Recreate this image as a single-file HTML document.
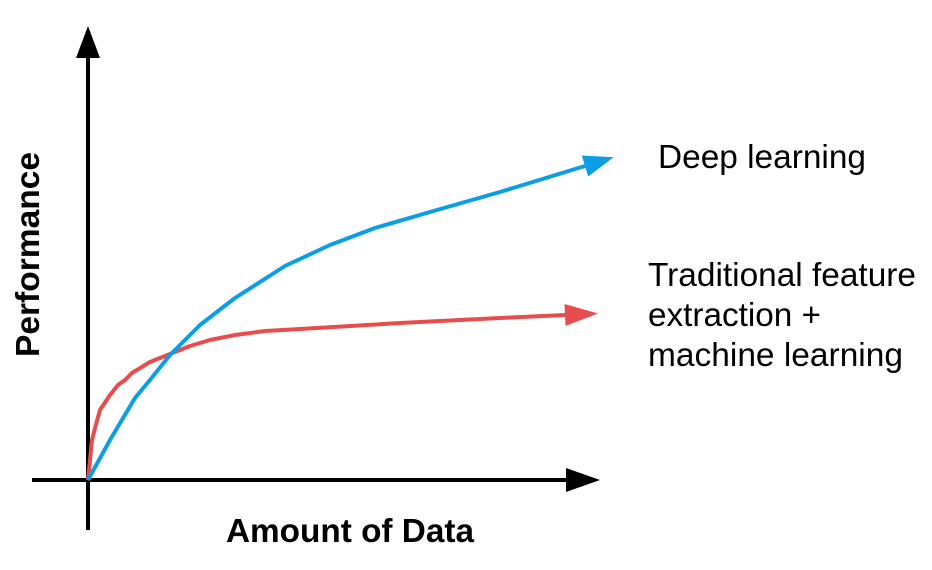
<!DOCTYPE html>
<html><head><meta charset="utf-8"><style>
html,body{margin:0;padding:0;background:#fff;width:932px;height:570px;overflow:hidden}
svg{display:block;font-family:"Liberation Sans",Arial,sans-serif}
</style></head><body>
<svg id="chart" width="932" height="570" viewBox="0 0 932 570">
<g id="axes">
<line x1="88" y1="530" x2="88" y2="50" stroke="#000" stroke-width="4"/>
<polygon points="88,26 76,58 100,58" fill="#000"/>
<line x1="32" y1="480" x2="570" y2="480" stroke="#000" stroke-width="4"/>
<polygon points="600,480 566,468 566,492" fill="#000"/>
</g>
<text x="226" y="542" font-size="33" font-weight="bold" textLength="248" lengthAdjust="spacingAndGlyphs">Amount of Data</text>
<text transform="translate(39,357) rotate(-90)" font-size="33" font-weight="bold" textLength="205" lengthAdjust="spacingAndGlyphs">Performance</text>
<g id="series"></g>
<text x="658" y="168" font-size="33" textLength="208" lengthAdjust="spacingAndGlyphs">Deep learning</text>
<g font-size="33">
<text x="648" y="286" textLength="268" lengthAdjust="spacingAndGlyphs">Traditional feature</text>
<text x="648" y="326" textLength="173" lengthAdjust="spacingAndGlyphs">extraction +</text>
<text x="648" y="366" textLength="255" lengthAdjust="spacingAndGlyphs">machine learning</text>
</g>
</svg>
<script>
// amount of data (x) and performance (y) in chart units
const redX = [0,4,7,12,22,30,37,44,62,82,102,122,147,177,212,312,412,477];
const redY = [0,40,52,70,85,95,100,107,118,126,134,140,145,149,151,157,162,165];
const blueX = [0,22,47,62,82,112,147,197,242,287,342,412,497];
const blueY = [0,40,82,100,125,155,182,214,235,252,268,288,314];
function sx(v){return 88+v;}
function sy(v){return 480-v;}
const g=document.getElementById('series');
const NS='http://www.w3.org/2000/svg';
function draw(xs,ys,color,name,tipLen){
  let d='';
  for(let i=0;i<xs.length;i++)d+=(i?'L':'M')+sx(xs[i])+','+sy(ys[i]);
  const p=document.createElementNS(NS,'path');
  p.setAttribute('d',d);p.setAttribute('fill','none');p.setAttribute('stroke',color);
  p.setAttribute('stroke-width','4');p.setAttribute('stroke-linejoin','round');
  
  
  g.appendChild(p);
  const n=xs.length;
  const x1=sx(xs[n-2]),y1=sy(ys[n-2]),x2=sx(xs[n-1]),y2=sy(ys[n-1]);
  const a=Math.atan2(y2-y1,x2-x1);
  const tx=x2+tipLen*Math.cos(a),ty=y2+tipLen*Math.sin(a);
  const w=11,c=Math.cos(a+Math.PI/2),s=Math.sin(a+Math.PI/2);
  const h=document.createElementNS(NS,'polygon');
  h.setAttribute('points',tx+','+ty+' '+(x2+w*c)+','+(y2+w*s)+' '+(x2-w*c)+','+(y2-w*s));
  h.setAttribute('fill',color);
  
  
  g.appendChild(h);
}
draw(redX,redY,'#e84c4c','traditional-ml',33);
draw(blueX,blueY,'#0b9ee3','deep-learning',30);
</script>
</body></html>
